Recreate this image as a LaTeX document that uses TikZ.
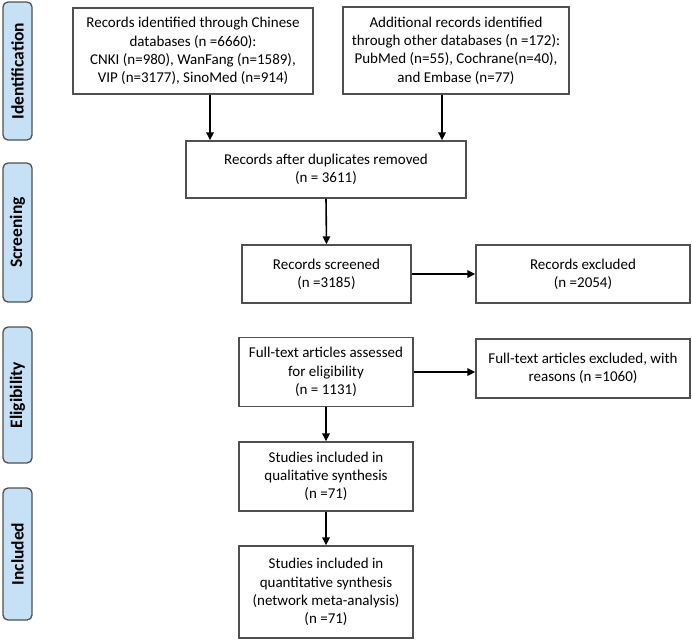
\documentclass[tikz,border=0pt]{standalone}
\usepackage{fontspec}
\setmainfont{Carlito}
\usetikzlibrary{arrows.meta}
\definecolor{barblue}{HTML}{C6E0F5}
\definecolor{boxline}{HTML}{505050}
\begin{document}
\begin{tikzpicture}[x=1pt,y=-1pt,
  box/.style={draw=boxline,line width=1.4pt,align=center,inner sep=2pt,
    font=\fontsize{15}{18.3}\selectfont},
  bar/.style={draw=boxline,line width=1.3pt,fill=barblue,rounded corners=5pt,
    rotate=90,minimum height=29pt,inner sep=0pt,
    font=\fontsize{17.5}{20}\selectfont\bfseries},
  arr/.style={-{Triangle[length=8pt,width=7.5pt]},line width=1.6pt,black}]
\useasboundingbox (0,0) rectangle (692,641);
% side bars
\node[bar,minimum width=138pt] (ident) at (17.5,71) {Identification};
\node[bar,minimum width=139pt] (screen) at (17.5,232.5) {Screening};
\node[bar,minimum width=136pt] (elig) at (17.5,395) {Eligibility};
\node[bar,minimum width=132pt] (incl) at (17.5,554) {Included};
% boxes
\node[box,minimum width=240pt,minimum height=86pt] (b1) at (193,51)
  {Records identified through Chinese\\databases (n =6660):\\CNKI (n=980), WanFang (n=1589),\\VIP (n=3177), SinoMed (n=914)};
\node[box,minimum width=226pt,minimum height=87pt] (b2) at (456,50.5)
  {Additional records identified\\through other databases (n =172):\\PubMed (n=55), Cochrane(n=40),\\and Embase (n=77)};
\node[box,minimum width=280pt,minimum height=57pt] (b3) at (326,169.5)
  {Records after duplicates removed\\(n = 3611)};
\node[box,minimum width=169pt,minimum height=58pt] (b4) at (326.5,274)
  {Records screened\\(n =3185)};
\node[box,minimum width=214pt,minimum height=58pt] (b5) at (583,274)
  {Records excluded\\(n =2054)};
\node[box,minimum width=174pt,minimum height=69pt] (b6) at (326,372)
  {Full-text articles assessed\\for eligibility\\(n = 1131)};
\node[box,minimum width=214pt,minimum height=59pt] (b7) at (583,368.5)
  {Full-text articles excluded, with\\reasons (n =1060)};
\node[box,minimum width=174pt,minimum height=69pt] (b8) at (326,476.5)
  {Studies included in\\qualitative synthesis\\(n =71)};
\node[box,minimum width=174pt,minimum height=92pt] (b9) at (326,592)
  {Studies included in\\quantitative synthesis\\(network meta-analysis)\\(n =71)};
% connectors
\draw[arr] ([xshift=17pt]b1.south) -- ([xshift=17pt]b1.south |- b3.north);
\draw[arr] ([xshift=-14pt]b2.south) -- ([xshift=-14pt]b2.south |- b3.north);
\draw[arr] (b3.south) -- (b4.north);
\draw[arr] (b4.east) -- (b5.west);
\draw[arr] (b6.east) -- (b6.east -| b7.west);
\draw[arr] (b6.south) -- (b8.north);
\draw[arr] (b8.south) -- (b9.north);
\end{tikzpicture}
\end{document}
